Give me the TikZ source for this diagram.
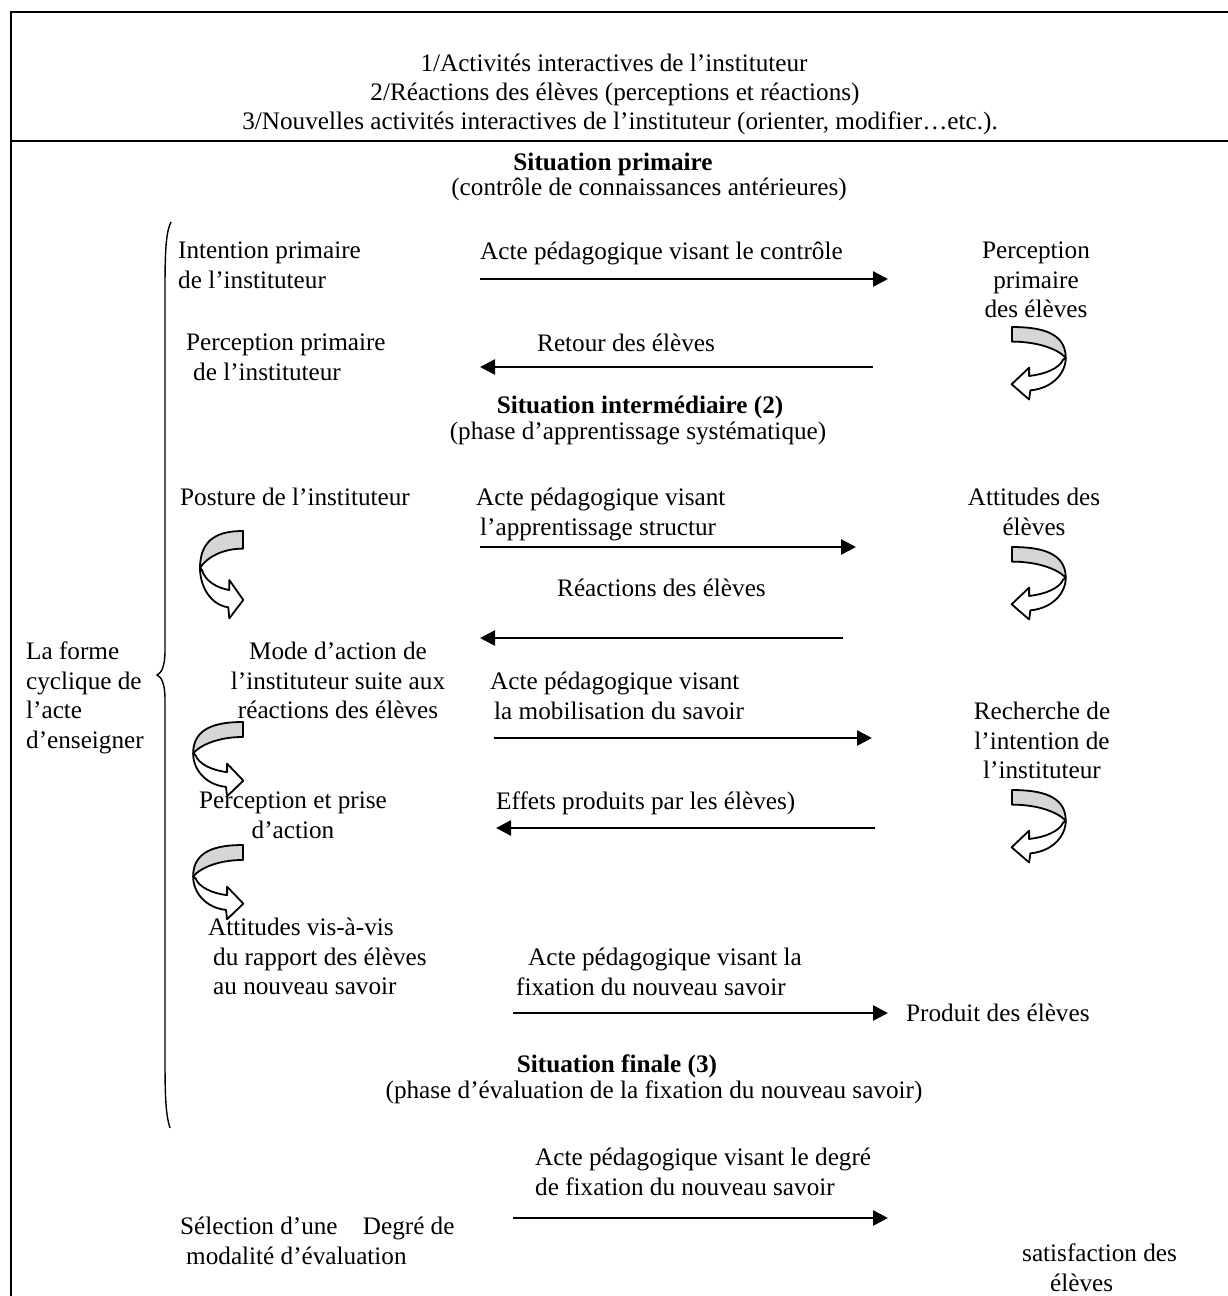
\documentclass[tikz,border=0pt]{standalone}
\usepackage{fontspec}
\setmainfont{Liberation Serif}
\usetikzlibrary{arrows.meta}
\definecolor{bandgrey}{RGB}{214,214,214}

\begin{document}
\begin{tikzpicture}[x=1pt, y=-1pt,
    frame/.style={line width=2pt},
    flow/.style={line width=2.6pt, -{Triangle[length=15pt, width=15pt]}},
    band/.style={line width=1.8pt, line join=round},
    txt/.style={inner sep=0pt, font=\fontsize{25.2}{29.5}\selectfont},
    head/.style={inner sep=0pt, font=\fontsize{25.2}{29.5}\selectfont\bfseries}]
  \useasboundingbox (0,0) rectangle (1228,1296);
  % A bent block arrow: #1 = its upper end, #2 = xscale, #3 = yscale.
  \newcommand{\bendarrow}[3]{%
    \begin{scope}[shift={(#1)}, xscale=#2, yscale=#3]
      \filldraw[band, fill=bandgrey] (0,0) .. controls (-22,0) and (-43,6) .. (-43,37)
        .. controls (-36,26) and (-20,17.6) .. (0,17.6) -- cycle;
      \filldraw[band, fill=white] (-43,37) .. controls (-43,56) and (-32,74) .. (-14.7,76.3)
        -- (-13.7,87.3) -- (0.3,69) -- (-13.7,49) -- (-13.7,59)
        .. controls (-26,57) and (-38,50) .. (-41,39) -- cycle;
    \end{scope}}

  % frame and brace
  \draw[frame] (11,1296) -- (11,12) -- (1228,12);
  \draw[frame] (11,141) -- (1228,141);
  \draw[line width=1.4pt] (171,222) .. controls (166,232) and (165,250) .. (165,290) -- (165,650)
    .. controls (165,668) and (161,673) .. (157,675) .. controls (161,677) and (165,682) .. (165,700)
    -- (165,1060) .. controls (165,1100) and (166,1115) .. (170,1128);

  % bent arrows, left and right
  \bendarrow{243,531}{1}{1}
  \bendarrow{243,722}{1.16}{0.85}
  \bendarrow{243,845}{1.16}{0.85}
  \bendarrow{1012,327}{-1.25}{0.83}
  \bendarrow{1012,547}{-1.25}{0.83}
  \bendarrow{1012,790}{-1.25}{0.83}

  % heading
  \node[txt, anchor=base] (act1) at (614,71) {1/Activités interactives de l’instituteur};
  \node[txt, anchor=base] (act2) at (615,100) {2/Réactions des élèves (perceptions et réactions)};
  \node[txt, anchor=base] (act3) at (620,129) {3/Nouvelles activités interactives de l’instituteur (orienter, modifier…etc.).};

  % situation primaire
  \node[head, anchor=base] (sitprim) at (613,170) {Situation primaire};
  \node[txt, anchor=base] (sitprimsub) at (649,195) {(contrôle de connaissances antérieures)};
  \node[txt, align=left, anchor=north west] (intprof) at (178,242) {Intention primaire\\de l’instituteur};
  \node[txt, anchor=base west] (actctrl) at (480,259) {Acte pédagogique visant le contrôle};
  \node[txt, align=center, anchor=north] (percel) at (1036,242) {Perception\\primaire\\des élèves};
  \node[txt, align=left, anchor=north west] (percprof) at (186,334) {Perception primaire\\\hspace*{7pt}de l’instituteur};
  \node[txt, anchor=base west] (retour) at (537,351) {Retour des élèves};

  % situation intermediaire
  \node[head, anchor=base] (sitinter) at (640,413) {Situation intermédiaire (2)};
  \node[txt, anchor=base] (sitintersub) at (638,439) {(phase d’apprentissage systématique)};
  \node[txt, anchor=base west] (posture) at (180,505) {Posture de l’instituteur};
  \node[txt, align=left, anchor=north west] (actstruct) at (476,488) {Acte pédagogique visant\\\hspace*{4pt}l’apprentissage structur};
  \node[txt, align=center, anchor=north] (attel) at (1034,488) {Attitudes des\\élèves};
  \node[txt, anchor=base west] (reac) at (557,596) {Réactions des élèves};
  \node[txt, align=center, anchor=north] (mode) at (338,642) {Mode d’action de\\l’instituteur suite aux\\réactions des élèves};
  \node[txt, align=left, anchor=north west] (forme) at (26,642) {La forme\\cyclique de\\l’acte\\d’enseigner};
  \node[txt, align=left, anchor=north west] (actmob) at (490,672) {Acte pédagogique visant\\\hspace*{4pt}la mobilisation du savoir};
  \node[txt, align=center, anchor=north] (rech) at (1042,702) {Recherche de\\l’intention de\\l’instituteur};
  \node[txt, align=center, anchor=north] (percact) at (293,792) {Perception et prise\\d’action};
  \node[txt, anchor=base west] (effets) at (496,809) {Effets produits par les élèves)};
  \node[txt, align=left, anchor=north west] (attvis) at (208,918) {Attitudes vis-à-vis\\\hspace*{5pt}du rapport des élèves\\\hspace*{5pt}au nouveau savoir};
  \node[txt, align=left, anchor=north west] (actfix) at (516,948) {\hspace*{12pt}Acte pédagogique visant la\\fixation du nouveau savoir};
  \node[txt, anchor=base west] (produit) at (906,1021) {Produit des élèves};

  % situation finale
  \node[head, anchor=base] (sitfin) at (617,1072) {Situation finale (3)};
  \node[txt, anchor=base] (sitfinsub) at (654,1098) {(phase d’évaluation de la fixation du nouveau savoir)};
  \node[txt, align=left, anchor=north west] (actdeg) at (535,1148) {Acte pédagogique visant le degré\\de fixation du nouveau savoir};
  \node[txt, align=left, anchor=north west] (select) at (180,1217) {Sélection d’une\quad Degré de\\\hspace*{6pt}modalité d’évaluation};
  \node[txt, align=left, anchor=north west] (satis) at (1022,1244) {satisfaction des\\\hspace*{28pt}élèves};

  % straight arrows
  \coordinate (f1a) at (480,279);  \coordinate (f1b) at (888,279);
  \coordinate (f2a) at (873,367);  \coordinate (f2b) at (480,367);
  \coordinate (f3a) at (480,547);  \coordinate (f3b) at (856,547);
  \coordinate (f4a) at (843,638);  \coordinate (f4b) at (480,638);
  \coordinate (f5a) at (494,738);  \coordinate (f5b) at (872,738);
  \coordinate (f6a) at (875,828);  \coordinate (f6b) at (496,828);
  \coordinate (f7a) at (513,1013); \coordinate (f7b) at (888,1013);
  \coordinate (f8a) at (513,1218); \coordinate (f8b) at (888,1218);
  \foreach \f in {1,...,8} \draw[flow] (f\f a) -- (f\f b);
\end{tikzpicture}
\end{document}
